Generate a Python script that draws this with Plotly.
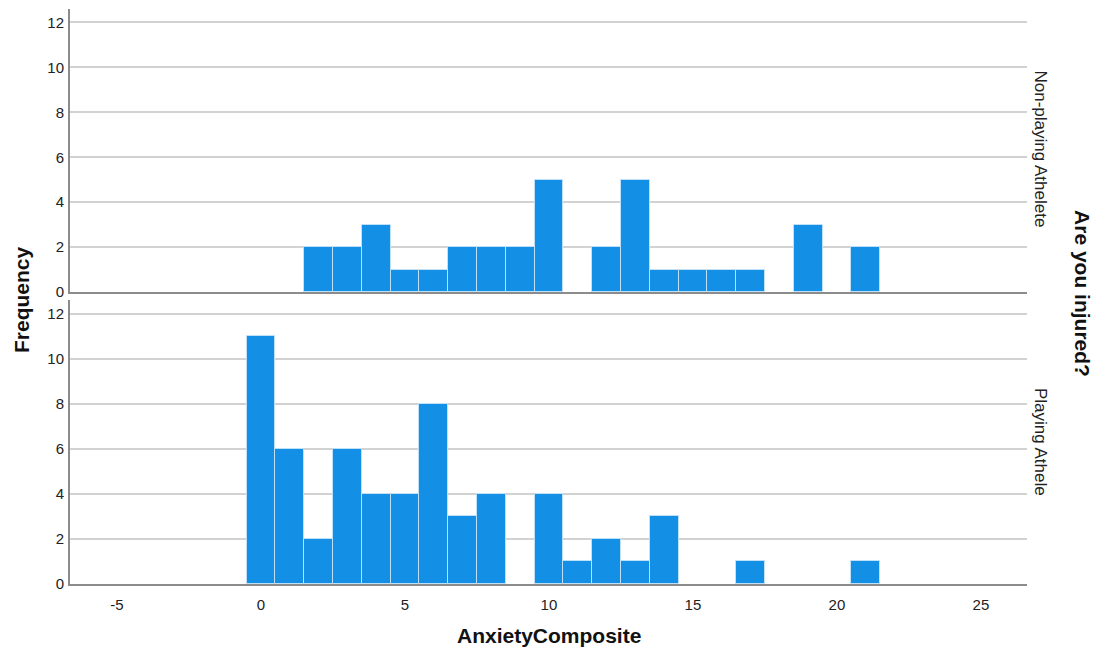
import plotly.graph_objects as go
from plotly.subplots import make_subplots

# AnxietyComposite score bins (bin centres, width 1)
scores = list(range(0, 22))

# Frequencies per score for each injury group
non_playing_freq = [0, 0, 2, 2, 3, 1, 1, 2, 2, 2, 5, 0, 2, 5, 1, 1, 1, 1, 0, 3, 0, 2]
playing_freq = [11, 6, 2, 6, 4, 4, 8, 3, 4, 0, 4, 1, 2, 1, 3, 0, 0, 1, 0, 0, 0, 1]

group_labels = ["Non-playing Athelete", "Playing Athele"]

x_ticks = [-5, 0, 5, 10, 15, 20, 25]
x_tick_text = ["-5", "0", "5", "10", "15", "20", "25"]
y_ticks = [0, 2, 4, 6, 8, 10, 12]

BAR_COLOR = "#1390E6"
BAR_EDGE = "#BFE0F8"
GRID = "#D2D2D2"
AXIS = "#8C8C8C"
FONT = "Liberation Sans, Arial, sans-serif"
TICK_FONT = dict(family=FONT, size=15, color="#222")
TITLE_FONT = dict(family=FONT, size=21, color="#111")

fig = make_subplots(rows=2, cols=1, shared_xaxes=True, vertical_spacing=0.0)

for row, freq in enumerate([non_playing_freq, playing_freq], start=1):
    fig.add_trace(
        go.Bar(
            x=scores,
            y=freq,
            width=1,
            marker=dict(
                color=BAR_COLOR,
                # empty bins get no outline so nothing is drawn for them
                line=dict(color=BAR_EDGE, width=[1 if v > 0 else 0 for v in freq]),
            ),
            showlegend=False,
            hoverinfo="x+y",
        ),
        row=row,
        col=1,
    )

common_x = dict(
    range=[-6.63, 26.6],
    tickvals=x_ticks,
    ticktext=x_tick_text,
    showgrid=False,
    zeroline=False,
    showline=True,
    linecolor=AXIS,
    linewidth=2,
    ticks="",
    ticklabelstandoff=6,
    tickfont=TICK_FONT,
)
common_y = dict(
    range=[0, 12.6],
    tickvals=y_ticks,
    showgrid=True,
    gridcolor=GRID,
    gridwidth=2,
    zeroline=False,
    showline=True,
    linecolor=AXIS,
    linewidth=2,
    ticks="",
    ticklabelstandoff=1,
    tickfont=TICK_FONT,
)

fig.update_layout(
    width=1093,
    height=651,
    margin=dict(l=70, r=66, t=9, b=67),
    paper_bgcolor="white",
    plot_bgcolor="white",
    bargap=0,
    font=dict(family=FONT, color="#111"),
    xaxis=dict(common_x, showticklabels=False, anchor="y"),
    xaxis2=dict(common_x, showticklabels=True, anchor="y2"),
    yaxis=dict(common_y, domain=[0.5078, 1.0]),
    yaxis2=dict(common_y, domain=[0.0, 0.4939]),
)


def label(text, x, y, angle, font):
    return dict(
        text=text, textangle=angle, x=x, y=y, xref="paper", yref="paper",
        xanchor="center", yanchor="middle", showarrow=False, font=font,
    )


annotations = [
    label("<b>AnxietyComposite</b>", 0.5, -0.0904, 0, TITLE_FONT),
    label("<b>Frequency</b>", -0.0512, 0.4939, -90, TITLE_FONT),
    label("<b>Are you injured?</b>", 1.0585, 0.5043, 90, TITLE_FONT),
    label(group_labels[0], 1.0136, 0.7574, 90, dict(family=FONT, size=17, color="#222")),
    label(group_labels[1], 1.0136, 0.247, 90, dict(family=FONT, size=17, color="#222")),
]
fig.update_layout(annotations=annotations)

fig.write_html("out.html")
